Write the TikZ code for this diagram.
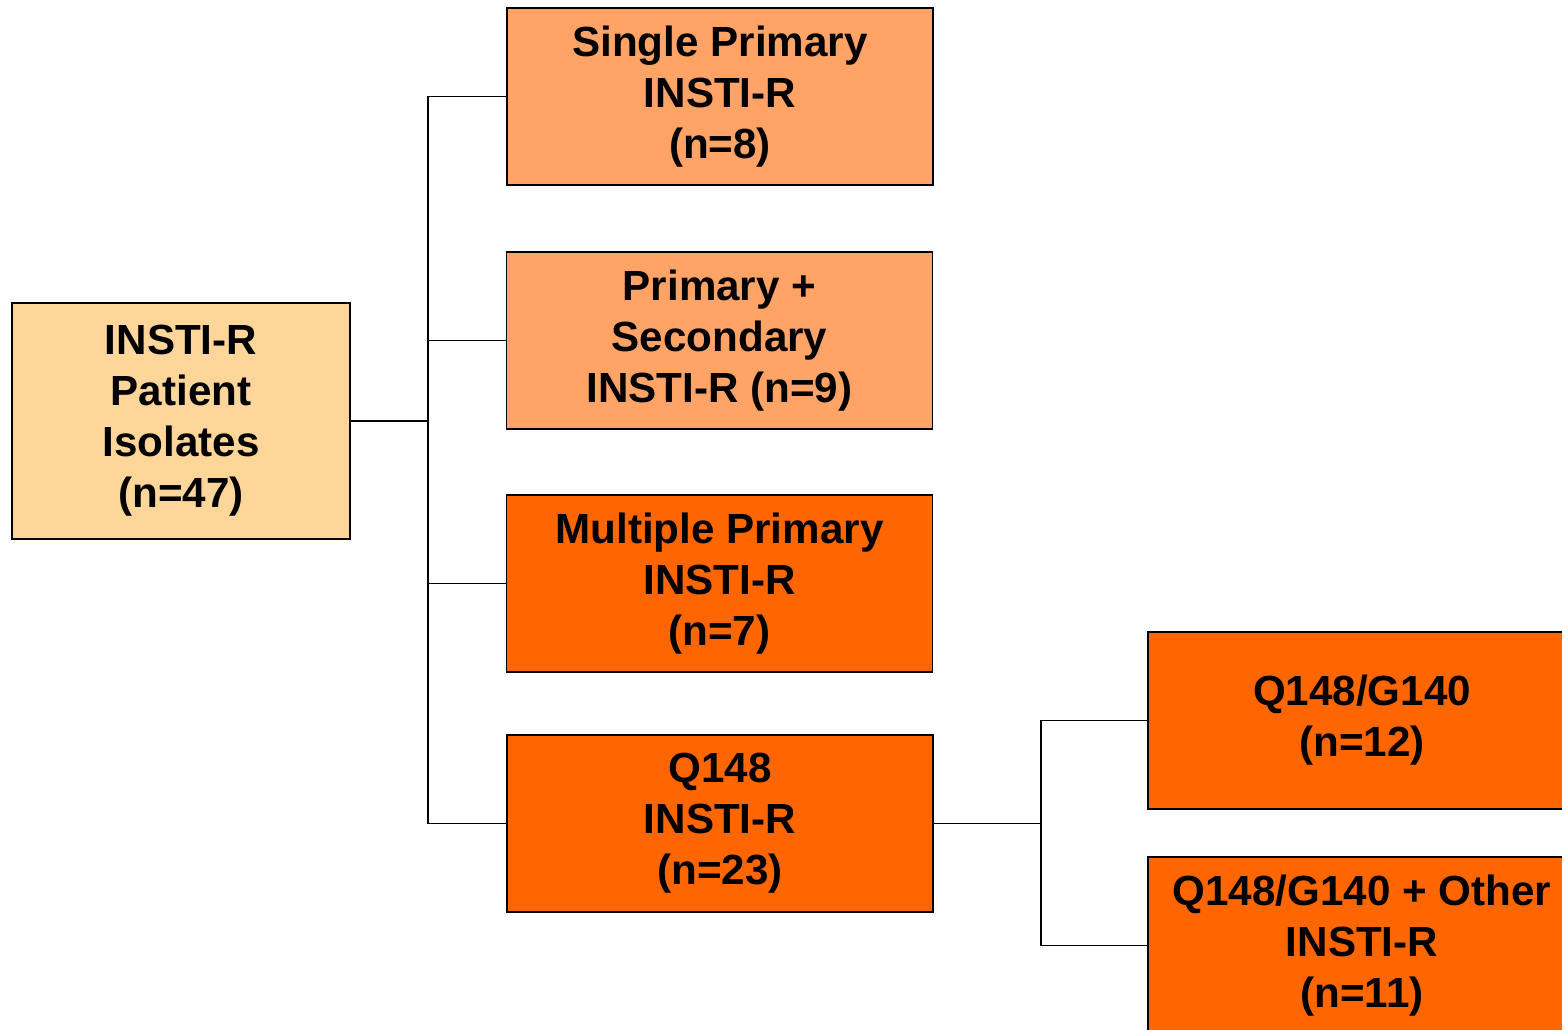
\documentclass[tikz,border=0pt]{standalone}
\usepackage{fontspec}
\setmainfont{Liberation Sans}
\usetikzlibrary{positioning}
\definecolor{insti_pale}{RGB}{255,214,153}
\definecolor{insti_light}{RGB}{255,163,102}
\definecolor{insti_dark}{RGB}{255,102,0}

\tikzset{
    groupbox/.style={draw=black, line width=1pt, align=center,
        font=\fontsize{24}{29}\selectfont\bfseries,
        minimum width=8.52cm, minimum height=3.54cm, inner sep=0pt},
    link/.style={draw=black, line width=1.1pt}
}

\begin{document}
\begin{tikzpicture}[x=0.02cm, y=-0.02cm]
    \clip (0,0) rectangle (1562,1030);
    \node[groupbox, fill=insti_pale, minimum width=6.76cm, minimum height=4.72cm] (root) at (181,421) {INSTI-R\\Patient\\Isolates\\(n=47)};
    \node[groupbox, fill=insti_light] (single) at (720,96.5) {Single Primary\\INSTI-R\\(n=8)};
    \node[groupbox, fill=insti_light] (primsec) at (719.5,340.5) {Primary +\\Secondary\\INSTI-R (n=9)};
    \node[groupbox, fill=insti_dark] (multi) at (719.5,583.5) {Multiple Primary\\INSTI-R\\(n=7)};
    \node[groupbox, fill=insti_dark] (q148) at (720,823.5) {Q148\\INSTI-R\\(n=23)};
    \node[groupbox, fill=insti_dark, minimum width=8.56cm] (q148g) at (1362,720.5) {Q148/G140\\(n=12)};
    \node[groupbox, fill=insti_dark, minimum width=8.56cm] (q148go) at (1362,945.5) {Q148/G140 + Other\\INSTI-R\\(n=11)};

    % trunk from the patient isolates
    \coordinate (trunk) at (428,421);
    \draw[link] (root.east) -- (trunk);
    \draw[link] (trunk) |- (single.west);
    \draw[link] (trunk) |- (primsec.west);
    \draw[link] (trunk) |- (multi.west);
    \draw[link] (trunk) |- (q148.west);

    % Q148 split
    \coordinate (fork) at (1041,823.5);
    \draw[link] (q148.east) -- (fork);
    \draw[link] (fork) |- (q148g.west);
    \draw[link] (fork) |- (q148go.west);
\end{tikzpicture}
\end{document}
